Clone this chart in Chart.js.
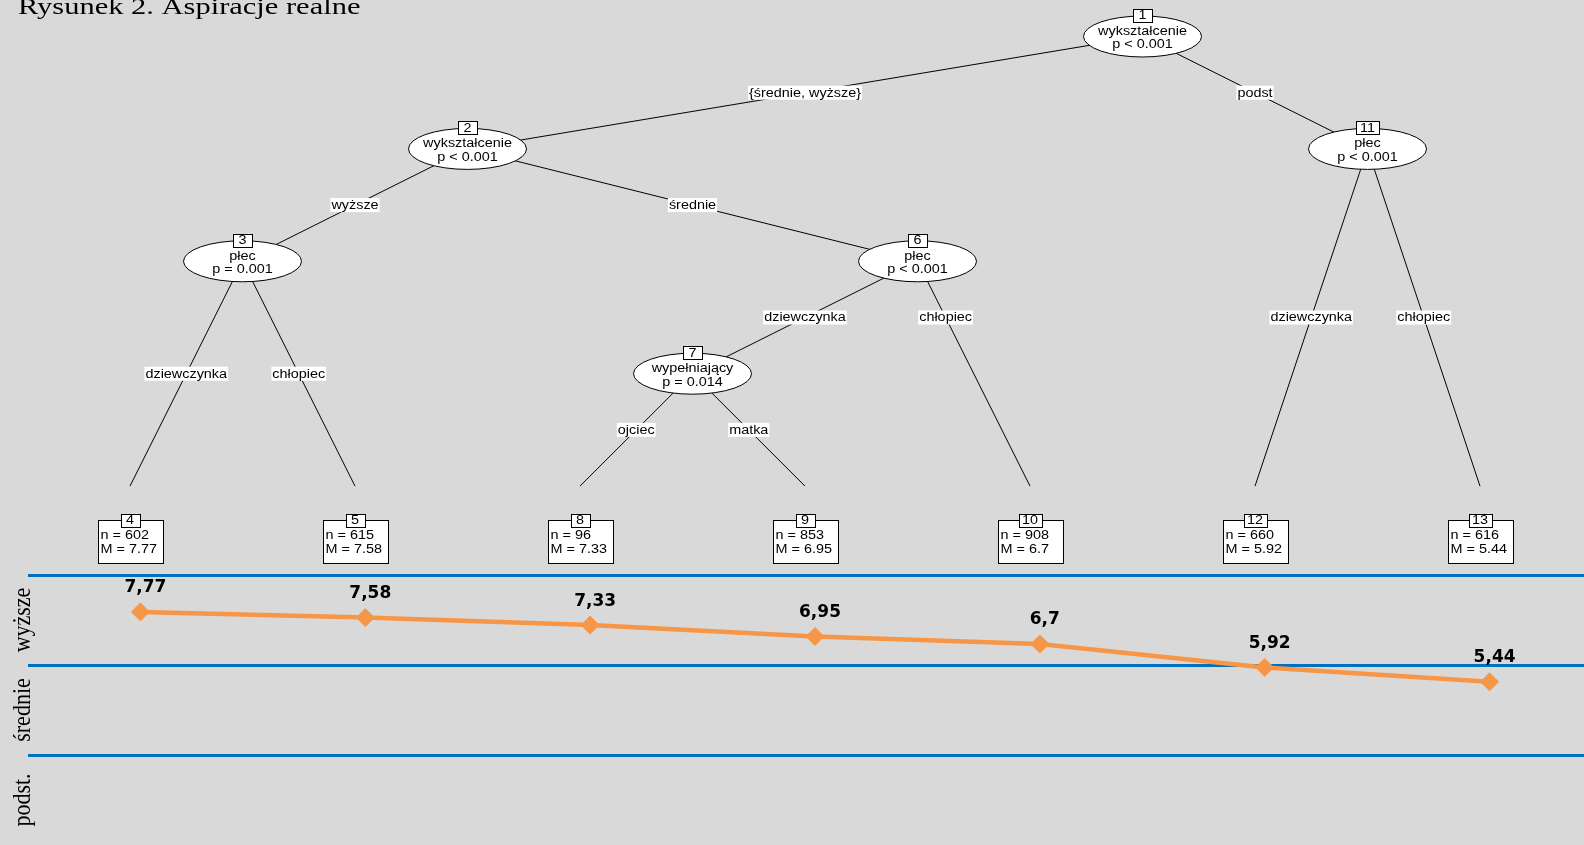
<!DOCTYPE html>
<html><head><meta charset="utf-8">
<script src="https://cdn.jsdelivr.net/npm/chart.js@4.4.1/dist/chart.umd.min.js"></script>
<style>
html,body{margin:0;padding:0;background:#d9d9d9;overflow:hidden;width:1584px;height:845px}
.box{position:absolute;left:0;width:1584px}
</style></head><body>
<div class="box" style="top:0;height:570px"><canvas id="tree"></canvas></div>
<div class="box" style="top:560px;height:285px"><canvas id="line"></canvas></div>
<script>
// ---------- data ----------
const titleText = 'Rysunek 2. Aspiracje realne';
const leafIds = ['4','5','8','9','10','12','13'];
const leafN = [602, 615, 96, 853, 908, 660, 616];
const leafMeans = [7.77, 7.58, 7.33, 6.95, 6.7, 5.92, 5.44];
const bandLabels = ['podst.', 'średnie', 'wyższe'];
const bandBounds = [0, 3, 6, 9];
const innerIds = ['1','2','3','6','7','11'];
const innerVars = ['wykształcenie','wykształcenie','płec','płec','wypełniający','płec'];
const innerP = ['p < 0.001','p < 0.001','p = 0.001','p < 0.001','p = 0.014','p < 0.001'];
const innerKids = [['2','11'],['3','6'],['4','5'],['7','10'],['8','9'],['12','13']];
const edgeLabels = [['{średnie, wyższe}','podst'],['wyższe','średnie'],['dziewczynka','chłopiec'],['dziewczynka','chłopiec'],['ojciec','matka'],['dziewczynka','chłopiec']];

// ---------- tree layout (from structure) ----------
const pos = {};
let maxDepth = 0;
function walk(id, depth){
  const li = leafIds.indexOf(id);
  if (li >= 0){ pos[id] = {x: li, depth, leaf: true}; maxDepth = Math.max(maxDepth, depth); return [li, li]; }
  const k = innerIds.indexOf(id);
  const r1 = walk(innerKids[k][0], depth + 1);
  const r2 = walk(innerKids[k][1], depth + 1);
  pos[id] = {x: r1[1] + 0.5, depth, leaf: false};
  return [r1[0], r2[1]];
}
walk(innerIds[0], 0);
Object.keys(pos).forEach(id => { pos[id].lvl = pos[id].leaf ? maxDepth : pos[id].depth; });

const SX = 1.2;
const sansFont = '12px "Liberation Sans", Arial, sans-serif';
function sText(ctx, t, x, y, align, sx){
  ctx.save(); ctx.translate(x, y); ctx.scale(sx, 1); ctx.textAlign = align; ctx.fillText(t, 0, 0); ctx.restore();
}
const al = v => Math.round(v) + 0.5;

function numBox(ctx, id, cx, cy){
  const w = id.length > 1 ? 23 : 19, h = 13;
  ctx.fillStyle = '#fff'; ctx.strokeStyle = '#000'; ctx.lineWidth = 1;
  ctx.fillRect(al(cx - w/2), al(cy - h/2), w, h);
  ctx.strokeRect(al(cx - w/2), al(cy - h/2), w, h);
  ctx.fillStyle = '#000'; ctx.font = sansFont; ctx.textBaseline = 'middle';
  sText(ctx, id, cx, cy + 0.5, 'center', SX);
}

const treePlugin = {
  id: 'treeDraw',
  afterDatasetsDraw(chart){
    const ctx = chart.ctx, xs = chart.scales.x, ys = chart.scales.y;
    const P = id => ({x: xs.getPixelForValue(pos[id].x), y: ys.getPixelForValue(pos[id].lvl)});
    ctx.save();
    // title
    ctx.fillStyle = '#000';
    ctx.font = '24px "Liberation Serif", "Times New Roman", serif';
    ctx.textBaseline = 'alphabetic';
    sText(ctx, titleText, 18, 13.5, 'left', 1.27);
    // edge labels
    ctx.font = sansFont; ctx.textBaseline = 'middle';
    innerIds.forEach((id, k) => {
      const allLeaves = innerKids[k].every(c => pos[c].leaf);
      innerKids[k].forEach((c, j) => {
        const a = P(id), b = P(c);
        const nextY = allLeaves ? b.y : ys.getPixelForValue(pos[id].lvl + 1);
        const my = (a.y + nextY) / 2;
        const mx = a.x + (b.x - a.x) * (my - a.y) / (b.y - a.y);
        const t = edgeLabels[k][j];
        const w = ctx.measureText(t).width * SX + 2;
        ctx.fillStyle = '#fff';
        ctx.fillRect(mx - w/2, my - 7, w, 14);
        ctx.fillStyle = '#000';
        sText(ctx, t, mx, my + 0.5, 'center', SX);
      });
    });
    // inner nodes
    innerIds.forEach((id, k) => {
      const p = P(id);
      ctx.beginPath();
      ctx.ellipse(p.x, p.y, 59, 20.5, 0, 0, Math.PI * 2);
      ctx.fillStyle = '#fff'; ctx.fill();
      ctx.strokeStyle = '#000'; ctx.lineWidth = 1; ctx.stroke();
      ctx.fillStyle = '#000'; ctx.font = sansFont; ctx.textBaseline = 'middle';
      sText(ctx, innerVars[k], p.x, p.y - 5, 'center', SX);
      sText(ctx, innerP[k], p.x, p.y + 8.5, 'center', SX);
      numBox(ctx, id, p.x, p.y - 21);
    });
    // terminal nodes
    leafIds.forEach((id, i) => {
      const p = P(id);
      const left = p.x - 32.5, top = p.y + 34, w = 65, h = 43;
      ctx.fillStyle = '#fff'; ctx.strokeStyle = '#000'; ctx.lineWidth = 1;
      ctx.fillRect(al(left), al(top), w, h);
      ctx.strokeRect(al(left), al(top), w, h);
      ctx.fillStyle = '#000'; ctx.font = sansFont; ctx.textBaseline = 'middle';
      sText(ctx, 'n = ' + leafN[i], left + 3, top + 15.5, 'left', SX);
      sText(ctx, 'M = ' + String(leafMeans[i]), left + 3, top + 30, 'left', SX);
      numBox(ctx, id, p.x, top);
    });
    ctx.restore();
  }
};

// edges as line datasets
const edgeSets = [];
innerIds.forEach((id, k) => {
  innerKids[k].forEach(c => {
    edgeSets.push({
      data: [{x: pos[id].x, y: pos[id].lvl}, {x: pos[c].x, y: pos[c].lvl}],
      showLine: true, borderColor: '#000', borderWidth: 1, pointRadius: 0, fill: false
    });
  });
});

new Chart(document.getElementById('tree'), {
  type: 'scatter',
  data: {datasets: edgeSets},
  options: {
    responsive: true, maintainAspectRatio: false, animation: false, devicePixelRatio: 1,
    layout: {padding: 0, autoPadding: false},
    plugins: {legend: {display: false}, tooltip: {enabled: false}},
    events: [],
    scales: {
      x: {type: 'linear', min: -0.5778, max: 6.4622, display: false},
      y: {type: 'linear', reverse: true, min: -0.3247, max: 4.7465, display: false}
    }
  },
  plugins: [treePlugin]
});

// ---------- line chart ----------
const lineLabelsPlugin = {
  id: 'lineLabels',
  afterDatasetsDraw(chart){
    const ctx = chart.ctx, ys = chart.scales.y;
    ctx.save();
    const meta = chart.getDatasetMeta(0);
    ctx.fillStyle = '#000';
    ctx.font = 'bold 17px "DejaVu Sans", Verdana, sans-serif';
    ctx.textAlign = 'center'; ctx.textBaseline = 'middle';
    meta.data.forEach((pt, i) => {
      ctx.fillText(String(leafMeans[i]).replace('.', ','), pt.x + 5, pt.y - 24);
    });
    ctx.font = '22px "Liberation Serif", "Times New Roman", serif';
    ctx.textBaseline = 'alphabetic';
    bandLabels.forEach((t, i) => {
      const yc = ys.getPixelForValue((bandBounds[i] + bandBounds[i + 1]) / 2);
      ctx.save();
      ctx.translate(30, yc);
      ctx.scale(1.15, 1);
      ctx.rotate(-Math.PI / 2);
      ctx.textAlign = 'center';
      ctx.fillText(t, 0, 0);
      ctx.restore();
    });
    ctx.restore();
  }
};

new Chart(document.getElementById('line'), {
  type: 'line',
  data: {
    datasets: [{
      data: leafMeans.map((v, i) => ({x: i, y: v})),
      borderColor: '#F79646', backgroundColor: '#F79646',
      borderWidth: 4.5, pointStyle: 'rectRot', pointRadius: 9, pointHoverRadius: 9,
      pointBorderWidth: 1, tension: 0, fill: false, clip: false
    }]
  },
  options: {
    responsive: true, maintainAspectRatio: false, animation: false, devicePixelRatio: 1,
    layout: {padding: {top: 15, left: 0, right: 0, bottom: 0}, autoPadding: false},
    plugins: {legend: {display: false}, tooltip: {enabled: false}},
    events: [],
    scales: {
      x: {type: 'linear', min: -0.5, max: 6.42, display: false},
      y: {
        min: 0, max: 9,
        afterBuildTicks: s => { s.ticks = bandBounds.map(v => ({value: v})); },
        afterFit: s => { s.width = 28; },
        ticks: {display: false},
        border: {display: false},
        grid: {
          drawTicks: false,
          color: c => (c.tick && c.tick.value === 0) ? '#a6a6a6' : '#0070C0',
          lineWidth: c => (c.tick && c.tick.value === 0) ? 1 : 3
        }
      }
    }
  },
  plugins: [lineLabelsPlugin]
});
</script>
</body></html>
